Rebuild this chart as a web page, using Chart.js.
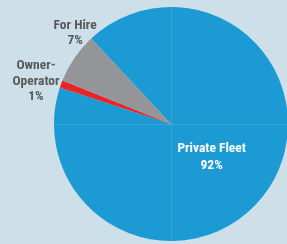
<!DOCTYPE html>
<html>
<head>
<meta charset="utf-8">
<script src="https://cdn.jsdelivr.net/npm/chart.js@4/dist/chart.umd.min.js"></script>
<style>
html,body{margin:0;padding:0;background:#cde0e9;overflow:hidden;width:287px;height:244px;}
#wrap{position:relative;width:292px;height:244px;}
</style>
</head>
<body>
<div id="wrap"><canvas id="c"></canvas></div>
<script>
const categories = ["Private Fleet", "Owner-Operator", "For Hire"];
const values = [92, 1, 7];
const labelLines = [["Private Fleet", "92%"], ["Owner-", "Operator", "1%"], ["For Hire", "7%"]];
const colors = ["#1b9ad3", "#ec2227", "#939598"];
const labelColors = ["#ffffff", "#58595b", "#58595b"];
// label placement: angle (deg clockwise from top), radius factor
const labelPlace = [[129.5, 0.45], [287.5, 1.21], [313.5, 1.13]];

const FONT = '"Liberation Sans Narrow", "Roboto Condensed", "Liberation Sans", sans-serif';

const overlay = {
  id: 'overlay',
  afterDatasetsDraw(chart) {
    const ctx = chart.ctx;
    const arc = chart.getDatasetMeta(0).data[0];
    const cx = arc.x, cy = arc.y, R = arc.outerRadius;
    ctx.save();
    ctx.beginPath();
    ctx.arc(cx, cy, R, 0, Math.PI * 2);
    ctx.clip();
    ctx.strokeStyle = 'rgba(255,255,255,0.13)';
    ctx.lineWidth = 1;
    ctx.beginPath();
    ctx.moveTo(Math.round(cx) + 0.5, cy - R);
    ctx.lineTo(Math.round(cx) + 0.5, cy + R);
    ctx.moveTo(cx - R, Math.round(cy) + 0.5);
    ctx.lineTo(cx + R, Math.round(cy) + 0.5);
    ctx.stroke();
    ctx.restore();
    ctx.save();
    ctx.textAlign = 'center';
    ctx.textBaseline = 'middle';
    ctx.font = 'bold 13.5px ' + FONT;
    labelLines.forEach((lines, i) => {
      const lh = i === 0 ? 17 : 15.5;
      const a = labelPlace[i][0] * Math.PI / 180;
      const r = labelPlace[i][1] * R;
      const x = cx + Math.sin(a) * r;
      const y = cy - Math.cos(a) * r;
      ctx.fillStyle = labelColors[i];
      const y0 = y - (lines.length - 1) * lh / 2;
      lines.forEach((t, k) => ctx.fillText(t, x, y0 + k * lh));
    });
    ctx.restore();
  }
};

new Chart(document.getElementById('c'), {
  type: 'pie',
  data: {
    labels: categories,
    datasets: [{
      data: values,
      backgroundColor: colors,
      borderWidth: 0
    }]
  },
  options: {
    responsive: true,
    maintainAspectRatio: false,
    animation: false,
    rotation: -43,
    layout: { padding: { left: 54, right: 4, top: 7, bottom: 3 } },
    plugins: { legend: { display: false }, tooltip: { enabled: false } }
  },
  plugins: [overlay]
});
</script>
</body>
</html>
